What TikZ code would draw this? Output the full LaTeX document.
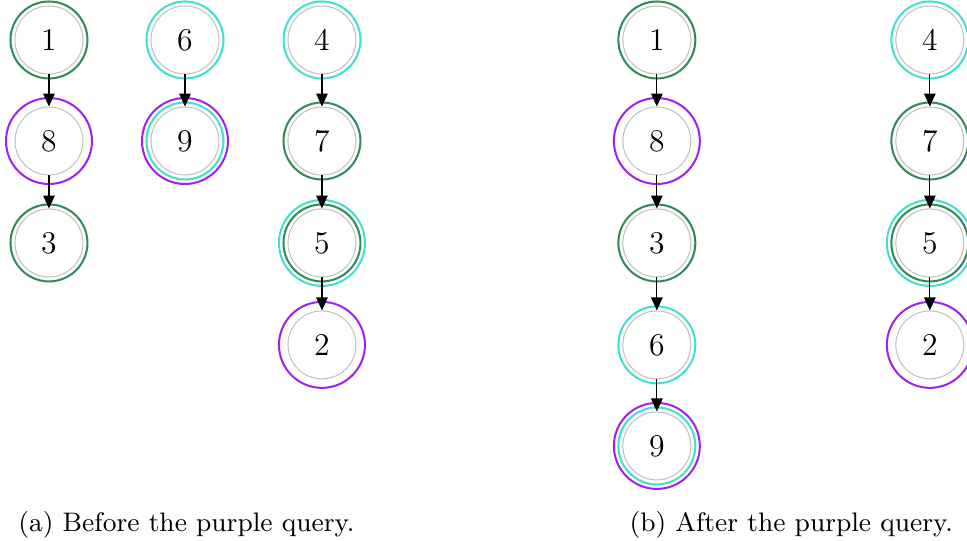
\documentclass[tikz,border=0pt]{standalone}
\usetikzlibrary{arrows.meta}
\definecolor{qgreen}{RGB}{46,139,87}
\definecolor{qcyan}{RGB}{64,224,208}
\definecolor{qpurple}{RGB}{160,32,240}
\newcommand{\elem}[4]{\node[circle,draw=black!25,line width=0.35pt,minimum size=0.83cm,inner sep=0pt,font=\fontsize{11}{13}\selectfont] (#1) at (#2,#3) {#4};}
\newcommand{\ring}[3]{\draw[#2,line width=0.7pt] (#1) circle (#3);}
\newcommand{\link}[2]{\draw[line width=0.4pt,-{Triangle[length=4.5pt,width=4pt]}] (#1) -- (#2);}
\newcommand{\capt}[4]{\node[font=\fontsize{9.3}{11}\selectfont] (#1) at (#2,#3) {#4};}

\begin{document}
\begin{tikzpicture}
    \useasboundingbox (0,0) rectangle (11.81,-6.606);
    % before
    \elem{a1}{0.598}{-0.488}{1}   \ring{a1}{qgreen}{0.47}
    \elem{a8}{0.598}{-1.722}{8}   \ring{a8}{qpurple}{0.525}
    \elem{a3}{0.598}{-2.967}{3}   \ring{a3}{qgreen}{0.47}
    \elem{a6}{2.259}{-0.488}{6}   \ring{a6}{qcyan}{0.47}
    \elem{a9}{2.259}{-1.722}{9}   \ring{a9}{qcyan}{0.47} \ring{a9}{qpurple}{0.525}
    \elem{a4}{3.932}{-0.488}{4}   \ring{a4}{qcyan}{0.47}
    \elem{a7}{3.932}{-1.722}{7}   \ring{a7}{qgreen}{0.47}
    \elem{a5}{3.932}{-2.967}{5}   \ring{a5}{qgreen}{0.47} \ring{a5}{qcyan}{0.525}
    \elem{a2}{3.932}{-4.212}{2}   \ring{a2}{qpurple}{0.525}
    \link{a1}{a8}\link{a8}{a3}\link{a6}{a9}
    \link{a4}{a7}\link{a7}{a5}\link{a5}{a2}
    \capt{capa}{2.277}{-6.41}{(a) Before the purple query.}

    % after
    \elem{b1}{8.022}{-0.488}{1}   \ring{b1}{qgreen}{0.47}
    \elem{b8}{8.022}{-1.722}{8}   \ring{b8}{qpurple}{0.525}
    \elem{b3}{8.022}{-2.967}{3}   \ring{b3}{qgreen}{0.47}
    \elem{b6}{8.022}{-4.212}{6}   \ring{b6}{qcyan}{0.47}
    \elem{b9}{8.022}{-5.446}{9}   \ring{b9}{qcyan}{0.47} \ring{b9}{qpurple}{0.525}
    \elem{b4}{11.356}{-0.488}{4}  \ring{b4}{qcyan}{0.47}
    \elem{b7}{11.356}{-1.722}{7}  \ring{b7}{qgreen}{0.47}
    \elem{b5}{11.356}{-2.967}{5}  \ring{b5}{qgreen}{0.47} \ring{b5}{qcyan}{0.525}
    \elem{b2}{11.356}{-4.212}{2}  \ring{b2}{qpurple}{0.525}
    \link{b1}{b8}\link{b8}{b3}\link{b3}{b6}\link{b6}{b9}
    \link{b4}{b7}\link{b7}{b5}\link{b5}{b2}
    \capt{capb}{9.664}{-6.41}{(b) After the purple query.}
\end{tikzpicture}
\end{document}
